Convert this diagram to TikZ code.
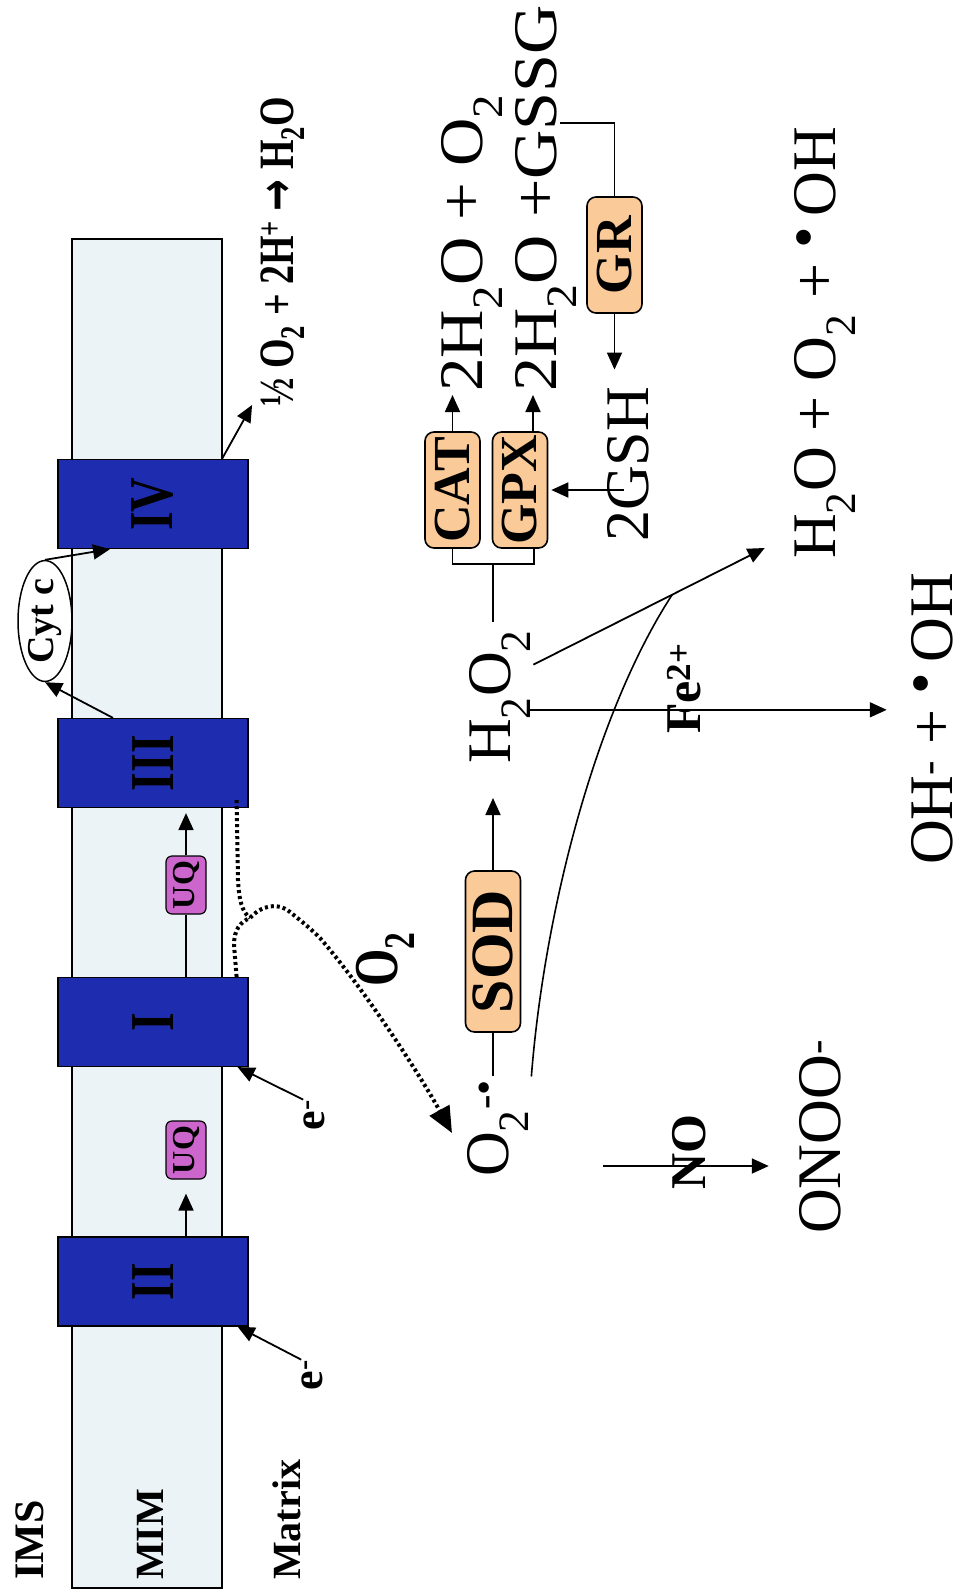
\documentclass[tikz,border=0pt]{standalone}
\usepackage{fontspec}
\setmainfont{Liberation Serif}
\newfontfamily\arrowfont{DejaVu Sans}
\usepackage{graphicx}
\usetikzlibrary{arrows.meta,shapes.geometric,calc}
\definecolor{membrane}{RGB}{236,243,246}
\definecolor{cplxblue}{RGB}{30,45,175}
\definecolor{uqpink}{RGB}{204,102,204}
\definecolor{enzpeach}{RGB}{250,202,152}
\newcommand{\fsz}[1]{\fontsize{#1}{#1}\selectfont}
\newcommand{\tallbf}[1]{\scalebox{1}[1.3]{#1}}
\newcommand{\rdot}{\raisebox{11pt}{•}}

\begin{document}
\begin{tikzpicture}[x=1pt, y=-1pt,
  every node/.style={rotate=90},
  arr/.style={-{Triangle[length=17pt,width=15pt]}, line width=1.8pt},
  conn/.style={line width=1.6pt},
  cplx/.style={draw, line width=1.2pt, fill=cplxblue, minimum width=89pt, minimum height=190pt, inner sep=0pt, font=\bfseries\fsz{48}},
  uq/.style={draw, line width=1.2pt, fill=uqpink, rounded corners=6pt, minimum width=58pt, minimum height=40pt, inner sep=0pt, font=\bfseries\fsz{32}},
  enz/.style={draw, line width=1.6pt, fill=enzpeach, rounded corners=9pt, minimum width=116pt, minimum height=55pt, inner sep=0pt, font=\bfseries\fsz{52}},
  chem/.style={anchor=base west, inner sep=0pt, font=\fsz{62}},
  lbl/.style={anchor=base west, inner sep=0pt, font=\bfseries\fsz{40}},
  dots/.style={line width=4pt, dash pattern=on 3pt off 3pt}]

\useasboundingbox (0,0) rectangle (964,1595);

% inner membrane
\draw[fill=membrane, line width=1.5pt] (72,239) rectangle (222,1588);
\node[lbl, font=\bfseries\fsz{42}] (ims) at (43,1580) {IMS};
\node[lbl] (mim) at (163,1580) {MIM};
\node[lbl] (matrix) at (300,1580) {Matrix};

% respiratory chain
\node[cplx] (c2) at (153,1281.5) {\tallbf{II}};
\node[cplx] (c1) at (153,1022) {\tallbf{I}};
\node[cplx] (c3) at (153,763) {\tallbf{III}};
\node[cplx] (c4) at (153,504) {\tallbf{IV}};
\node[uq] (uq1) at (186,1150) {UQ};
\node[uq] (uq2) at (186,885) {UQ};
\draw[arr, shorten >=14pt] (uq1 |- c2.east) -- (uq1.west);
\draw[conn] (uq2 |- c1.east) -- (uq2.west);
\draw[arr, shorten >=5pt] (uq2.east) -- (uq2 |- c3.west);

\node[lbl, anchor=center, font=\bfseries\fsz{44}] (e2) at (312,1375) {e\textsuperscript{-}};
\node[lbl, anchor=center, font=\bfseries\fsz{44}] (e1) at (314,1115) {e\textsuperscript{-}};
\draw[arr] (e2.north east) -- ([xshift=-11pt]c2.south west);
\draw[arr] (e1.north east) -- ([xshift=-11pt]c1.south west);

\node[draw, ellipse, line width=1.5pt, fill=white, minimum width=118pt, minimum height=54pt, inner sep=0pt, font=\bfseries\fsz{38}] (cytc) at (45,621) {Cyt c};
\draw[arr] ([xshift=-40pt]c3.east) -- (cytc.west);
\draw[arr] (cytc.east) -- ([xshift=-43pt]c4.west);

\node[lbl, font=\bfseries\fsz{38}] (o2h) at (293,407) {\tallbf{½ O\textsubscript{2} + 2H\textsuperscript{+} {\arrowfont\bfseries →} H\textsubscript{2}O}};
\draw[arr] ([xshift=69pt]c4.east) -- ([shift={(-8,-2)}]o2h.north west);

% leak of electrons to oxygen
\node[chem] (o2r) at (508,1177) {O\textsubscript{2}\textsuperscript{-•}};
\coordinate (o2tip) at (452,1133);
\draw[dots] ([shift={(-12,-8)}]c3.south west) -- (238,880) .. controls (239,900) and (242,912) .. (250,918);
\draw[dots, -{Triangle[length=26pt,width=22pt]}] ([shift={(-12,0)}]c1.south east) -- (234,945)
  .. controls (234,930) and (240,922) .. (250,918)
  .. controls (262,905) and (278,902) .. (290,912)
  .. controls (300,920) and (310,928) .. (320,938)
  .. controls (365,990) and (420,1075) .. (o2tip);
\node[lbl, font=\bfseries\fsz{48}] (o2d) at (397,987) {\tallbf{O\textsubscript{2}}};

% detoxification
\node[enz, minimum width=161pt, font=\bfseries\fsz{60}] (sod) at (493,951.5) {SOD};
\node[chem] (h2o2) at (510,764) {H\textsubscript{2}O\textsubscript{2}};
\draw[conn, shorten <=3pt] (sod.west |- o2r.east) -- (sod.west);
\draw[arr, shorten >=34pt] (sod.east) -- (sod.east |- h2o2.west);

\node[enz] (cat) at (452.5,490) {CAT};
\node[enz] (gpx) at (520,490) {GPX};
\node[chem] (l1) at (482,392) {\scalebox{1.08}[1]{2H\textsubscript{2}O + O\textsubscript{2}}};
\node[chem] (l2) at (556,392) {\scalebox{1.1}[1]{2H\textsubscript{2}O +GSSG}};
\draw[arr, shorten >=3pt] (cat.east) -- (cat.east |- l1.west);
\draw[arr, shorten >=3pt] ([xshift=13pt]gpx.east) -- ([xshift=13pt]gpx.east |- l2.west);
\draw[conn] (cat.west) -- ++(0,15) -| ([xshift=14pt]gpx.west);
\coordinate (brk) at ($(cat.west)!0.5!([xshift=14pt]gpx.west)+(0,15)$);
\draw[conn, shorten >=8pt] (brk) -- (brk |- h2o2.east);

\node[enz] (gr) at (614.5,255) {GR};
\node[chem] (gsh) at (648,542) {2GSH};
\coordinate (gssg) at (560,123);
\draw[conn] (gr.east) |- (gssg);
\draw[arr, shorten >=17pt] (gr.west) -- (gr.west |- gsh.east);
\draw[arr, shorten <=-17pt, shorten >=3pt] (gsh.north |- gpx.south) -- (gpx.south);

% hydroxyl radical
\node[chem] (hoo) at (835,559) {H\textsubscript{2}O + O\textsubscript{2} + \rdot\,OH};
\node[chem] (ohoh) at (952,865) {OH\textsuperscript{-} + \rdot\,OH};
\node[lbl, font=\bfseries\fsz{50}] (fe) at (700,734) {Fe\textsuperscript{2+}};
\draw[arr, shorten >=24pt] ([shift={(0,13)}]h2o2.south) -- ([shift={(0,13)}]h2o2.south -| ohoh.north);
\coordinate (hws) at ([shift={(3,35)}]h2o2.south east);
\coordinate (hwe) at ([shift={(-29,-11)}]hoo.north west);
\coordinate (hwj) at ($(hws)!0.6!(hwe)$);
\draw[arr] (hws) -- (hwe);
\draw[conn] ([shift={(3,-3)}]o2r.south east) .. controls (544,915) and (594,715) .. (hwj);

% peroxynitrite
\node[chem] (onoo) at (840,1234) {ONOO\textsuperscript{-}};
\node[lbl, font=\bfseries\fsz{50}] (no) at (705,1190) {NO};
\coordinate (noin) at (603,1166);
\draw[arr, shorten >=30pt] (noin) -- (noin -| onoo.north);
\end{tikzpicture}
\end{document}
